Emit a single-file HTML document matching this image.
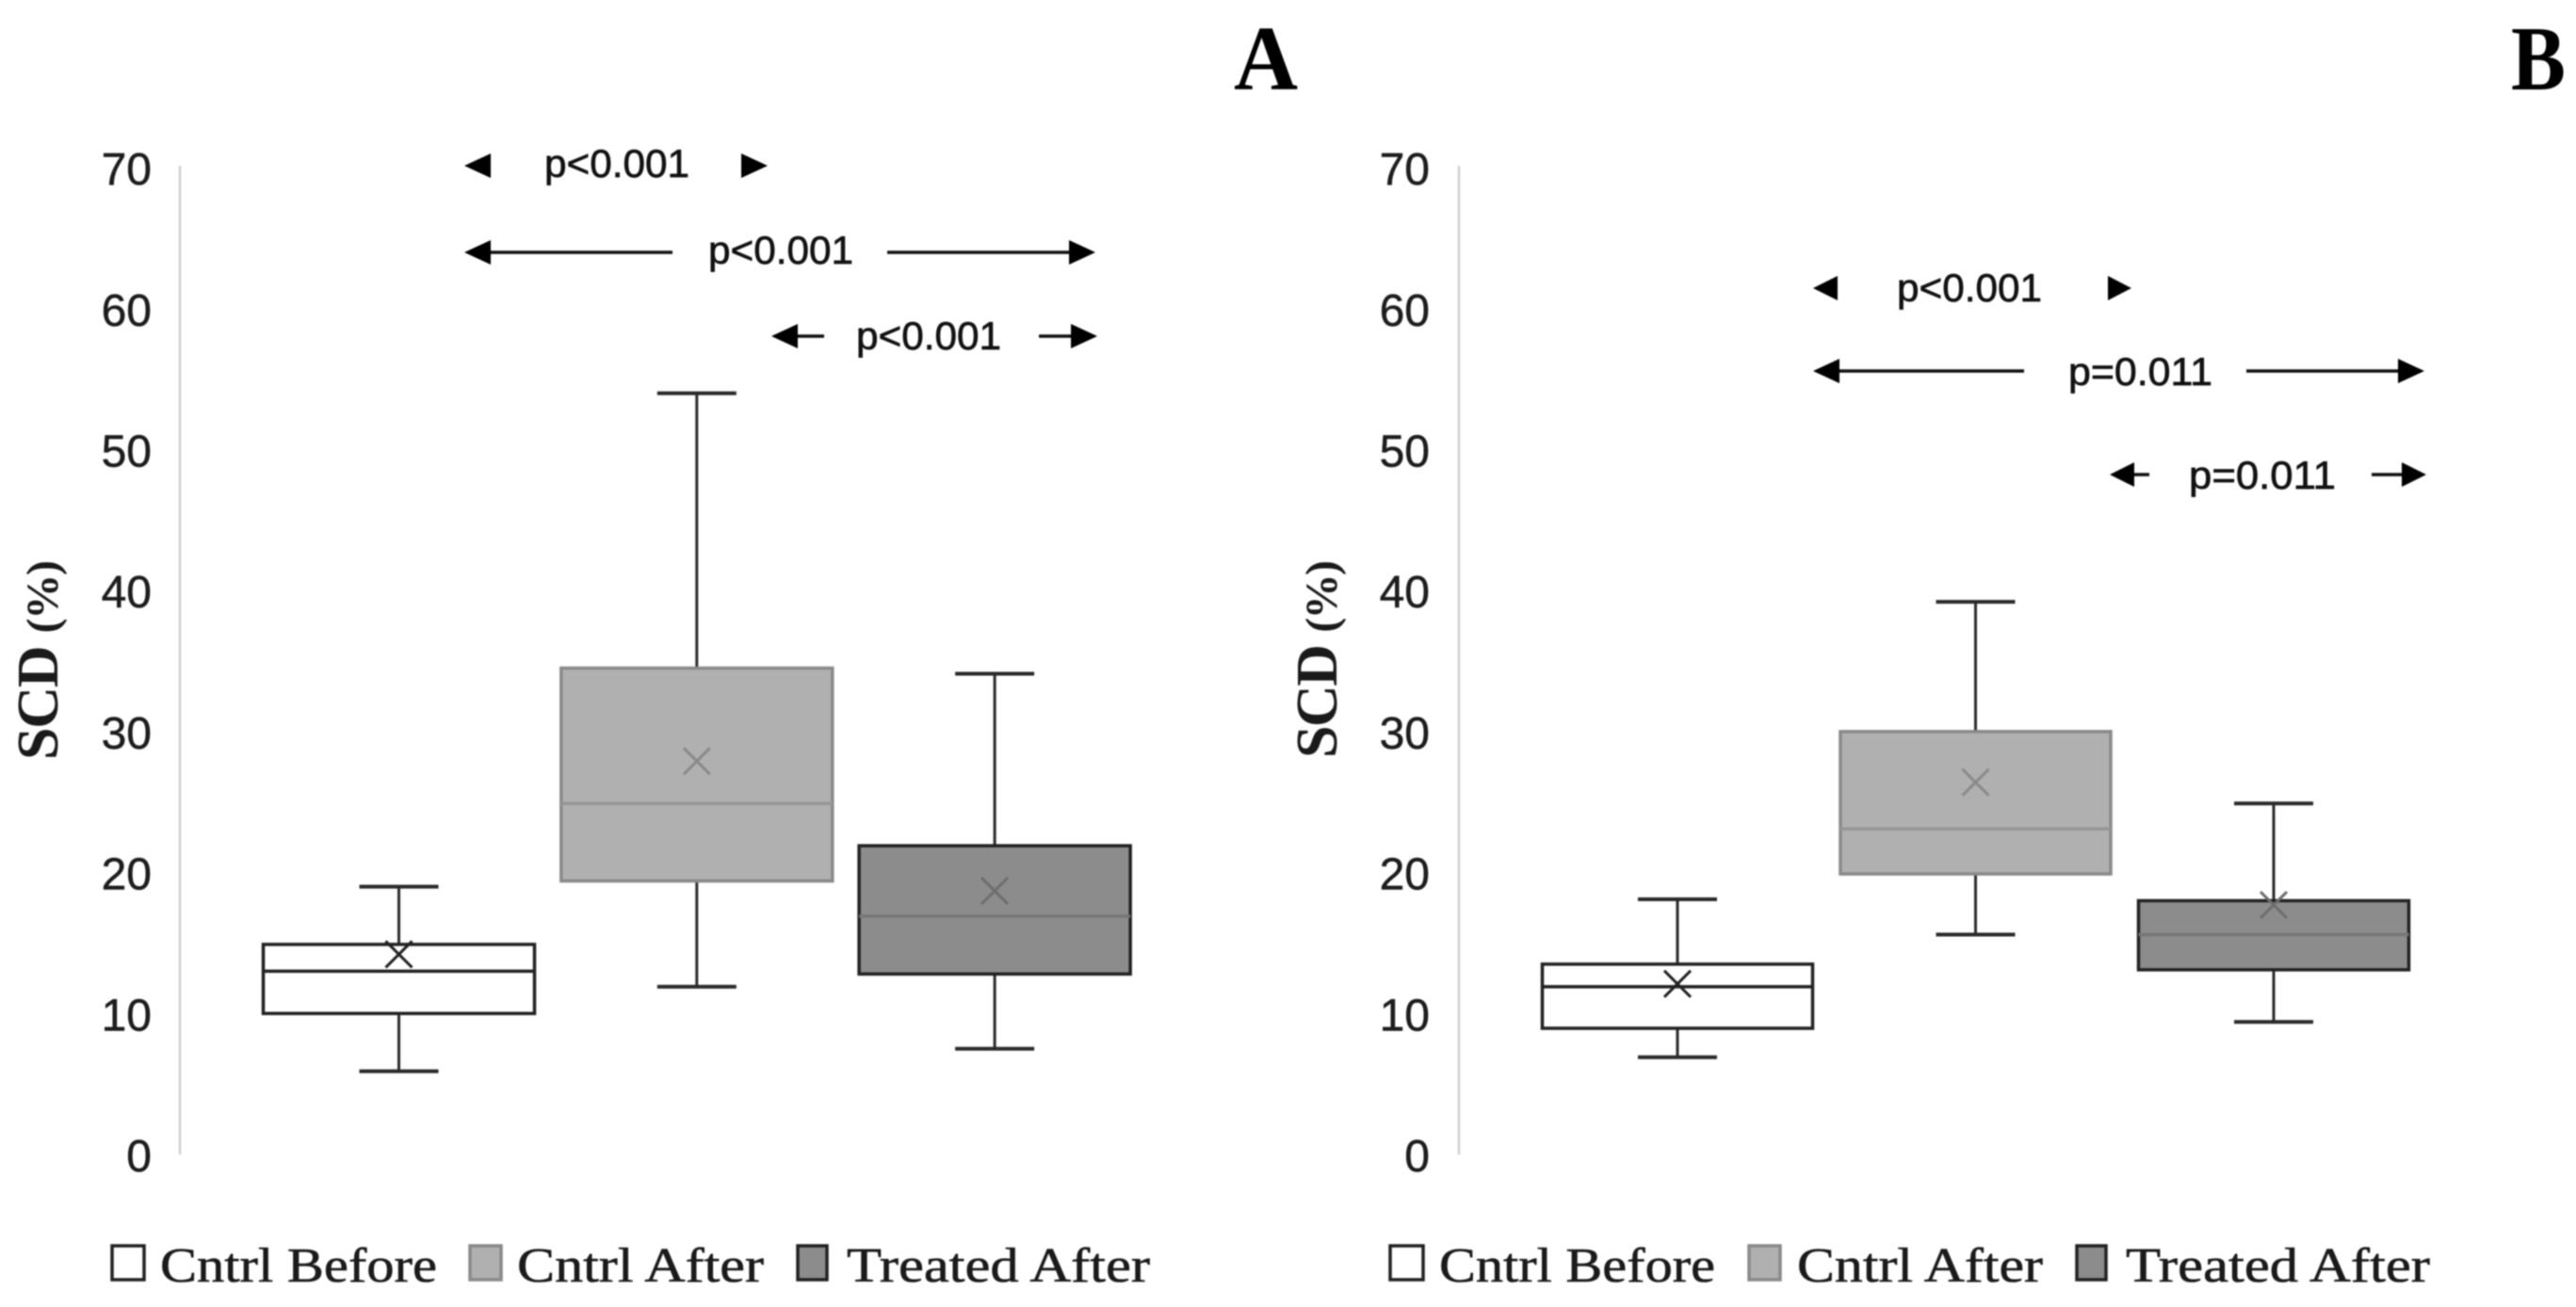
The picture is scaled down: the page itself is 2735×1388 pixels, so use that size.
<!DOCTYPE html>
<html lang="en">
<head>
<meta charset="utf-8">
<title>SCD box plots</title>
<style>
html,body{margin:0;padding:0;background:#fff;width:2735px;height:1388px;overflow:hidden}
svg{display:block;filter:blur(0.8px)}
.tick{font:48px "Liberation Sans",sans-serif;fill:#1c1c1c;text-anchor:end;stroke:#1c1c1c;stroke-width:.5}
.p{font:42px "Liberation Sans",sans-serif;fill:#111;stroke:#111;stroke-width:.7}
.leg{font:52px "Liberation Serif",serif;fill:#1a1a1a;stroke:#1a1a1a;stroke-width:.6}
.title{font:bold 62px "Liberation Serif",serif;fill:#1a1a1a}
.title tspan{font-size:48px}
.letter{font:bold 98px "Liberation Serif",serif;fill:#000}
.arr{stroke:#111;stroke-width:3.5;fill:none}
.hd{fill:#000}
</style>
</head>
<body>
<svg id="fig" xmlns="http://www.w3.org/2000/svg" width="2735" height="1388" viewBox="0 0 2735 1388">
  <rect x="0" y="0" width="2735" height="1388" fill="#fff"/>

  <text class="letter" x="1310" y="95" textLength="68" lengthAdjust="spacingAndGlyphs">A</text>
  <text class="letter" x="2666" y="95" textLength="58" lengthAdjust="spacingAndGlyphs">B</text>

  <text class="title" transform="translate(61,807) rotate(-90)" textLength="212" lengthAdjust="spacing">SCD <tspan>(%)</tspan></text>
  <text class="title" transform="translate(1419,805) rotate(-90)" textLength="210" lengthAdjust="spacing">SCD <tspan>(%)</tspan></text>

  <g id="marks"></g>

  <!-- Panel A significance annotations -->
  <g>
    <polygon class="hd" points="493,176 521,163 521,189"/>
    <text class="p" x="578" y="188" textLength="154" lengthAdjust="spacingAndGlyphs">p&lt;0.001</text>
    <polygon class="hd" points="815,176 787,163 787,189"/>
  </g>
  <g>
    <line class="arr" x1="505" y1="268" x2="714" y2="268"/>
    <polygon class="hd" points="493,268 521,255 521,281"/>
    <text class="p" x="752" y="280" textLength="154" lengthAdjust="spacingAndGlyphs">p&lt;0.001</text>
    <line class="arr" x1="942" y1="268" x2="1150" y2="268"/>
    <polygon class="hd" points="1163,268 1135,255 1135,281"/>
  </g>
  <g>
    <line class="arr" x1="835" y1="357" x2="875" y2="357"/>
    <polygon class="hd" points="819,357 847,344 847,370"/>
    <text class="p" x="909" y="371" textLength="154" lengthAdjust="spacingAndGlyphs">p&lt;0.001</text>
    <line class="arr" x1="1103" y1="357" x2="1150" y2="357"/>
    <polygon class="hd" points="1165,357 1137,344 1137,370"/>
  </g>

  <!-- Panel B significance annotations -->
  <g>
    <polygon class="hd" points="1925,306 1951,293 1951,319"/>
    <text class="p" x="2014" y="320" textLength="154" lengthAdjust="spacingAndGlyphs">p&lt;0.001</text>
    <polygon class="hd" points="2263,306 2238,293 2238,319"/>
  </g>
  <g>
    <line class="arr" x1="1939" y1="394" x2="2149" y2="394"/>
    <polygon class="hd" points="1925,394 1953,381 1953,407"/>
    <text class="p" x="2196" y="409" textLength="153" lengthAdjust="spacingAndGlyphs">p=0.011</text>
    <line class="arr" x1="2385" y1="394" x2="2561" y2="394"/>
    <polygon class="hd" points="2574,394 2546,381 2546,407"/>
  </g>
  <g>
    <line class="arr" x1="2255" y1="504" x2="2282" y2="504"/>
    <polygon class="hd" points="2240,504 2266,491 2266,517"/>
    <text class="p" x="2324" y="519" textLength="156" lengthAdjust="spacingAndGlyphs">p=0.011</text>
    <line class="arr" x1="2518" y1="504" x2="2562" y2="504"/>
    <polygon class="hd" points="2576,504 2550,491 2550,517"/>
  </g>

  <!-- Legends -->
  <g>
    <g>
      <rect x="119" y="1323" width="34" height="36" fill="#fff" stroke="#222" stroke-width="3.5"/>
      <text class="leg" x="170" y="1361" textLength="294" lengthAdjust="spacingAndGlyphs">Cntrl Before</text>
    </g>
    <g>
      <rect x="499" y="1323" width="33" height="36" fill="#b0b0b0" stroke="#8a8a8a" stroke-width="3.5"/>
      <text class="leg" x="549" y="1361" textLength="262" lengthAdjust="spacingAndGlyphs">Cntrl After</text>
    </g>
    <g>
      <rect x="847" y="1323" width="31" height="36" fill="#8c8c8c" stroke="#222" stroke-width="3.5"/>
      <text class="leg" x="899" y="1361" textLength="322" lengthAdjust="spacingAndGlyphs">Treated After</text>
    </g>
  </g>
  <g>
    <g>
      <rect x="1476" y="1323" width="35" height="36" fill="#fff" stroke="#222" stroke-width="3.5"/>
      <text class="leg" x="1528" y="1361" textLength="293" lengthAdjust="spacingAndGlyphs">Cntrl Before</text>
    </g>
    <g>
      <rect x="1857" y="1323" width="33" height="36" fill="#b0b0b0" stroke="#8a8a8a" stroke-width="3.5"/>
      <text class="leg" x="1908" y="1361" textLength="261" lengthAdjust="spacingAndGlyphs">Cntrl After</text>
    </g>
    <g>
      <rect x="2205" y="1323" width="31" height="36" fill="#8c8c8c" stroke="#222" stroke-width="3.5"/>
      <text class="leg" x="2257" y="1361" textLength="323" lengthAdjust="spacingAndGlyphs">Treated After</text>
    </g>
  </g>
</svg>

<script>
// Chart data
var categories = ['cntrl-before', 'cntrl-after', 'treated-after'];
var tickLabels = [0, 10, 20, 30, 40, 50, 60, 70];

var panelAWhiskerLow  = [5.9, 11.9, 7.5];
var panelAQ1          = [10.0, 19.4, 12.8];
var panelAMedian      = [13.0, 24.9, 16.9];
var panelAQ3          = [14.9, 34.5, 21.9];
var panelAWhiskerHigh = [19.0, 54.0, 34.1];
var panelAMean        = [14.2, 27.9, 18.7];

var panelBWhiskerLow  = [6.9, 15.6, 9.4];
var panelBQ1          = [8.95, 19.9, 13.1];
var panelBMedian      = [11.9, 23.1, 15.6];
var panelBQ3          = [13.5, 30.0, 18.0];
var panelBWhiskerHigh = [18.1, 39.2, 24.9];
var panelBMean        = [12.1, 26.4, 17.7];

// Styles per category
var fills      = ['#ffffff', '#b0b0b0', '#8c8c8c'];
var edges      = ['#222222', '#8a8a8a', '#222222'];
var medians    = ['#222222', '#969696', '#767676'];
var meanColors = ['#222222', '#8a8a8a', '#6e6e6e'];

var NS = 'http://www.w3.org/2000/svg';
var root = document.getElementById('marks');

function yScale(v) { return 1226 - v * 14.97; }

function el(parent, tag) {
  var e = document.createElementNS(NS, tag);
  parent.appendChild(e);
  return e;
}
function setLine(e, x1, y1, x2, y2, color, w) {
  e.setAttribute('x1', x1);
  e.setAttribute('y1', y1);
  e.setAttribute('x2', x2);
  e.setAttribute('y2', y2);
  e.setAttribute('stroke', color);
  e.setAttribute('stroke-width', w);
}

function drawPanel(id, axisX, labelX, xScale, boxW, low, q1, med, q3, high, mean) {
  var g = el(root, 'g');
  
  

  var axis = el(g, 'line');
  
  
  setLine(axis, axisX, yScale(70) - 2, axisX, yScale(0), '#cfcfcf', 2.5);

  tickLabels.forEach(function (t) {
    var tx = el(g, 'text');
    
    
    tx.setAttribute('class', 'tick');
    tx.setAttribute('x', labelX);
    tx.setAttribute('y', yScale(t) + 18);
    tx.textContent = String(t);
  });

  categories.forEach(function (cat, i) {
    var cx = xScale(i);
    var b = el(g, 'g');
    
    

    var stem = el(b, 'line');
    
    
    setLine(stem, cx, yScale(high[i]), cx, yScale(low[i]), '#2a2a2a', 3);

    var capHi = el(b, 'line');
    
    
    setLine(capHi, cx - 42, yScale(high[i]), cx + 42, yScale(high[i]), '#2a2a2a', 4);

    var capLo = el(b, 'line');
    
    
    setLine(capLo, cx - 42, yScale(low[i]), cx + 42, yScale(low[i]), '#2a2a2a', 4);

    var r = el(b, 'rect');
    
    
    r.setAttribute('x', cx - boxW / 2);
    r.setAttribute('y', yScale(q3[i]));
    r.setAttribute('width', boxW);
    r.setAttribute('height', yScale(q1[i]) - yScale(q3[i]));
    r.setAttribute('fill', fills[i]);
    r.setAttribute('stroke', edges[i]);
    r.setAttribute('stroke-width', 3.5);

    var m = el(b, 'line');
    
    
    setLine(m, cx - boxW / 2, yScale(med[i]), cx + boxW / 2, yScale(med[i]), medians[i], 3.5);

    var my = yScale(mean[i]);
    var x1 = el(b, 'line');
    
    
    setLine(x1, cx - 14, my - 14, cx + 14, my + 14, meanColors[i], 3);
    var x2 = el(b, 'line');
    
    
    setLine(x2, cx - 14, my + 14, cx + 14, my - 14, meanColors[i], 3);
  });
}

function xScaleA(i) { return 423.5 + i * 316.3; }
function xScaleB(i) { return 1781 + i * 316.5; }

drawPanel('a', 191, 161, xScaleA, 288, panelAWhiskerLow, panelAQ1, panelAMedian, panelAQ3, panelAWhiskerHigh, panelAMean);
drawPanel('b', 1549, 1518, xScaleB, 287, panelBWhiskerLow, panelBQ1, panelBMedian, panelBQ3, panelBWhiskerHigh, panelBMean);
</script>
</body>
</html>
